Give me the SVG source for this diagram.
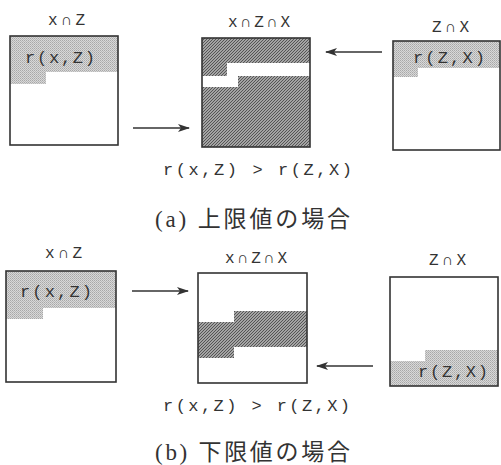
<svg xmlns="http://www.w3.org/2000/svg" width="501" height="465" viewBox="0 0 501 465">
<style>
.box{fill:none;stroke:#333;stroke-width:1.6}
.lbl{font-family:"Liberation Mono","DejaVu Sans Mono",monospace;font-size:16px;fill:#333}
.rt{font-family:"Liberation Mono","DejaVu Sans Mono",monospace;font-size:17px;fill:#333}
.cap{font-family:"Liberation Serif","Noto Sans CJK JP",serif;font-size:23px;fill:#333}
.conn{stroke:#333;stroke-width:1.6;fill:none;marker-end:url(#ah)}
.light{fill:url(#dots)}
.dark{fill:url(#hatch)}
</style>
<defs>
<pattern id="dots" width="2" height="2" patternUnits="userSpaceOnUse">
<rect width="2" height="2" fill="#d8d8d8"/>
<rect width="1" height="1" fill="#a8a8a8"/>
<rect x="1" y="1" width="1" height="1" fill="#b8b8b8"/>
</pattern>
<pattern id="hatch" width="3" height="3" patternUnits="userSpaceOnUse">
<rect width="3" height="3" fill="#a4a4a4"/>
<path d="M-1,1 L1,-1 M0,3 L3,0 M2,4 L4,2" stroke="#555" stroke-width="1"/>
</pattern>
<marker id="ah" markerWidth="12" markerHeight="8" refX="11" refY="4" orient="auto" markerUnits="userSpaceOnUse">
<path d="M0,0 L12,4 L0,8 L3,4 Z" fill="#333"/>
</marker>
</defs>

<g id="connectors">
<line class="conn" x1="133" y1="128" x2="189" y2="128"/>
<line class="conn" x1="382" y1="52" x2="326" y2="52"/>
<line class="conn" x1="132" y1="291" x2="188" y2="291"/>
<line class="conn" x1="373" y1="366" x2="317" y2="366"/>
</g>

<g id="a-xZ">
<text class="lbl" x="48" y="25" textLength="37" lengthAdjust="spacing">x∩Z</text>
<path class="light" d="M10,36 H118 V72 H46 V84 H10 Z"/>
<rect class="box" x="10" y="36" width="108" height="109"/>
<text class="rt" x="25" y="63" textLength="70" lengthAdjust="spacing">r(x,Z)</text>
</g>

<g id="a-xZX">
<text class="lbl" x="228" y="27" textLength="62" lengthAdjust="spacing">x∩Z∩X</text>
<rect class="dark" x="202" y="38" width="108" height="109"/>
<path fill="#fff" d="M227,63 H310 V76 H238 V87 H202 V76 H227 Z"/>
<rect class="box" x="202" y="38" width="108" height="109"/>
</g>
<text class="rt" x="163" y="175" textLength="189" lengthAdjust="spacing">r(x,Z) &gt; r(Z,X)</text>

<g id="a-ZX">
<text class="lbl" x="432" y="32" textLength="37" lengthAdjust="spacing">Z∩X</text>
<path class="light" d="M393,41 H500 V68 H418 V77 H393 Z"/>
<rect class="box" x="393" y="41" width="107" height="109"/>
<text class="rt" x="413" y="63" textLength="72" lengthAdjust="spacing">r(Z,X)</text>
</g>

<text class="cap" x="155" y="227" textLength="195" lengthAdjust="spacing">(a) 上限値の場合</text>

<g id="b-xZ">
<text class="lbl" x="45" y="258" textLength="37" lengthAdjust="spacing">x∩Z</text>
<path class="light" d="M6,271 H116 V308 H43 V319 H6 Z"/>
<rect class="box" x="6" y="271" width="110" height="111"/>
<text class="rt" x="20" y="297" textLength="72" lengthAdjust="spacing">r(x,Z)</text>
</g>

<g id="b-xZX">
<text class="lbl" x="225" y="263" textLength="62" lengthAdjust="spacing">x∩Z∩X</text>
<path class="dark" d="M234,311 H307 V347 H234 V358 H198 V322 H234 Z"/>
<rect class="box" x="198" y="273" width="109" height="110"/>
</g>
<text class="rt" x="163" y="411" textLength="187" lengthAdjust="spacing">r(x,Z) &gt; r(Z,X)</text>

<g id="b-ZX">
<text class="lbl" x="429" y="265" textLength="37" lengthAdjust="spacing">Z∩X</text>
<path class="light" d="M425,350 H498 V386 H390 V361 H425 Z"/>
<rect class="box" x="390" y="277" width="108" height="109"/>
<text class="rt" x="418" y="377" textLength="70" lengthAdjust="spacing">r(Z,X)</text>
</g>

<text class="cap" x="155" y="460" textLength="195" lengthAdjust="spacing">(b) 下限値の場合</text>
</svg>
